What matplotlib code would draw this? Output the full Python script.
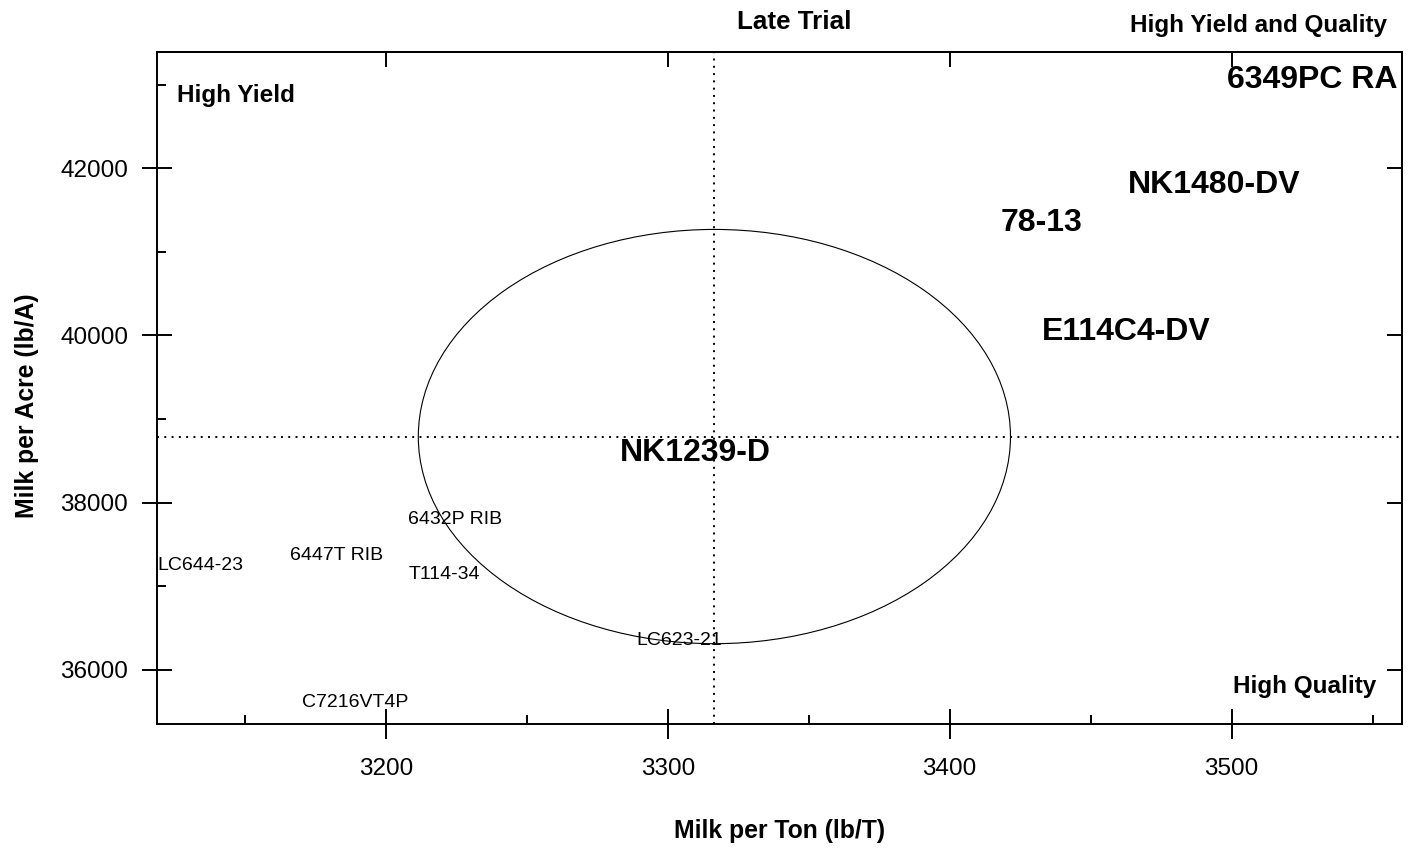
import numpy as np
import matplotlib
matplotlib.use("Agg")
import matplotlib.pyplot as plt
from matplotlib import font_manager
from matplotlib.patches import Ellipse

### Data
hybrids = ["6349PC RA", "NK1480-DV", "78-13", "E114C4-DV", "NK1239-D",
           "6432P RIB", "6447T RIB", "T114-34", "LC644-23", "LC623-21", "C7216VT4P"]
milk_ton = [3528.5, 3493.7, 3432.4, 3462.5, 3309.7,
            3224.6, 3182.4, 3220.7, 3134.4, 3304.2, 3189.1]
milk_acre = [43097, 41840, 41387, 40081, 38630,
             37820, 37393, 37165, 37269, 36375, 35637]
top_group = [True, True, True, True, True,
             False, False, False, False, False, False]
# half widths of the ellipse round the trial mean
ell_ton = 105
ell_acre = 2479

x_ticks = [3200, 3300, 3400, 3500]
x_minor = [3150, 3250, 3350, 3450, 3550]
y_ticks = [36000, 38000, 40000, 42000]
y_minor = [37000, 39000, 41000, 43000]

### Fonts
names = set(f.name for f in font_manager.fontManager.ttflist)
if "Liberation Sans Narrow" in names:
	narrow = "Liberation Sans Narrow"
	nscale = 1.0
else:
	narrow = "Liberation Sans"
	nscale = 0.85
wide = "Liberation Sans"

W, H = 1420, 850
fig = plt.figure(figsize=(W/100., H/100.), dpi=100)
ax = fig.add_axes([157./W, 1 - 724./H, (1402.-157)/W, (724.-52)/H])
ax.set_xlim(3118.9, 3560.4)
ax.set_ylim(35350, 43393)

for s in ax.spines.values():
	s.set_linewidth(1.4)

mean_ton = np.mean(milk_ton)
mean_acre = np.mean(milk_acre)

ax.axvline(mean_ton, color="k", lw=1.4, ls=(0, (1, 2.75)))
ax.axhline(mean_acre, color="k", lw=1.4, ls=(0, (1, 2.75)))
ax.add_patch(Ellipse((mean_ton, mean_acre), 2*ell_ton, 2*ell_acre,
                     fill=False, edgecolor="k", lw=0.8))

for name, xv, yv, big in zip(hybrids, milk_ton, milk_acre, top_group):
	if big:
		ax.text(xv, yv, name, ha="center", va="center_baseline",
		        family=wide, fontweight="bold", fontsize=23)
	else:
		ax.text(xv, yv, name, ha="center", va="center_baseline",
		        family=wide, fontsize=14)

### Ticks
ax.set_xticks(x_ticks)
ax.set_xticks(x_minor, minor=True)
ax.set_yticks(y_ticks)
ax.set_yticks(y_minor, minor=True)
ax.set_xticklabels([str(t) for t in x_ticks], family=narrow, fontsize=20.5*nscale)
ax.set_yticklabels([str(t) for t in y_ticks], family=narrow, fontsize=20.5*nscale)
ax.tick_params(which="major", direction="inout", length=21.6, width=1.4)
ax.tick_params(axis="x", which="major", pad=14)
ax.tick_params(axis="y", which="major", pad=10)
ax.tick_params(which="minor", direction="in", length=6.5, width=1.4)

sec_x = ax.secondary_xaxis("top")
sec_x.set_xticks(x_ticks)
sec_x.set_xticklabels([])
sec_x.tick_params(direction="in", length=10.8, width=1.4)
sec_y = ax.secondary_yaxis("right")
sec_y.set_yticks(y_ticks)
sec_y.set_yticklabels([])
sec_y.tick_params(direction="in", length=10.8, width=1.4)
sec_x.spines["top"].set_linewidth(1.4)
sec_y.spines["right"].set_linewidth(1.4)

### Texts
fig.text(794./W, 1 - 29./H, "Late Trial", ha="center", va="baseline",
         family=narrow, fontweight="bold", fontsize=22*nscale)
fig.text(779.5/W, 1 - 838./H, "Milk per Ton (lb/T)", ha="center", va="baseline",
         family=narrow, fontweight="bold", fontsize=21*nscale)
fig.text(27./W, 1 - 406./H, "Milk per Acre (lb/A)", ha="center", va="center",
         rotation=90, family=narrow, fontweight="bold", fontsize=21*nscale)
fig.text(1387./W, 1 - 32./H, "High Yield and Quality", ha="right", va="baseline",
         family=narrow, fontweight="bold", fontsize=20.5*nscale)
fig.text(177./W, 1 - 102./H, "High Yield", ha="left", va="baseline",
         family=narrow, fontweight="bold", fontsize=20.5*nscale)
fig.text(1376./W, 1 - 693./H, "High Quality", ha="right", va="baseline",
         family=narrow, fontweight="bold", fontsize=20.5*nscale)

fig.savefig("out.png", dpi=100)
